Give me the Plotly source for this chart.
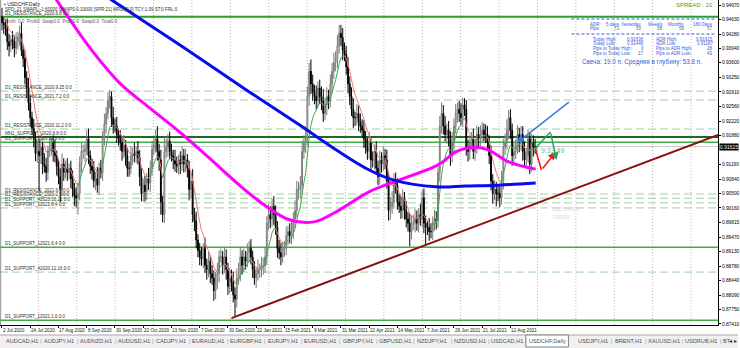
import plotly.graph_objects as go

# ------------------------------------------------------------------ data
date_labels = ["2 Jul 2020", "24 Jul 2020", "17 Aug 2020", "8 Sep 2020", "30 Sep 2020",
               "22 Oct 2020", "13 Nov 2020", "7 Dec 2020", "30 Dec 2020", "22 Jan 2021",
               "15 Feb 2021", "9 Mar 2021", "31 Mar 2021", "22 Apr 2021", "14 May 2021",
               "7 Jun 2021", "29 Jun 2021", "21 Jul 2021", "12 Aug 2021"]
date_label_bar = [0, 16, 32, 48, 64, 80, 96, 112, 128, 144, 160, 176, 192, 208, 224, 240, 256, 272, 288]

first_open = 0.9470
closes = [
    0.9455, 0.9450,
    0.9440, 0.9410, 0.9400, 0.9415, 0.9410,
    0.9395, 0.9410, 0.9420, 0.9430, 0.9390,
    0.9370, 0.9325, 0.9300, 0.9265, 0.9230,
    0.9205, 0.9180, 0.9145, 0.9150, 0.9140,
    0.9160, 0.9120, 0.9115, 0.9100, 0.9150,
    0.9160, 0.9170, 0.9150, 0.9140, 0.9115,
    0.9090, 0.9060, 0.9120, 0.9100, 0.9110,
    0.9100, 0.9110, 0.9085, 0.9060, 0.9045,
    0.9040, 0.9050, 0.9120, 0.9150, 0.9150,
    0.9155, 0.9180, 0.9140, 0.9115, 0.9105,
    0.9080, 0.9085, 0.9070, 0.9110, 0.9100,
    0.9180, 0.9215, 0.9240, 0.9270, 0.9280,
    0.9230, 0.9210, 0.9210, 0.9190, 0.9180,
    0.9170, 0.9150, 0.9165, 0.9140, 0.9110,
    0.9110, 0.9140, 0.9145, 0.9140, 0.9150,
    0.9135, 0.9090, 0.9050, 0.9070, 0.9055,
    0.9085, 0.9075, 0.9110, 0.9155, 0.9165,
    0.9180, 0.9150, 0.9130, 0.9030, 0.9000,
    0.9150, 0.9160, 0.9175, 0.9150, 0.9140,
    0.9130, 0.9120, 0.9115, 0.9130, 0.9120,
    0.9140, 0.9120, 0.9130, 0.9110, 0.9060,
    0.9080, 0.9000, 0.8985, 0.8940, 0.8915,
    0.8900, 0.8895, 0.8920, 0.8880, 0.8870,
    0.8890, 0.8860, 0.8850, 0.8820, 0.8840,
    0.8860, 0.8900, 0.8900, 0.8880,
    0.8900, 0.8870, 0.8830, 0.8850,
    0.8840, 0.8810, 0.8800, 0.8850, 0.8860,
    0.8900, 0.8880, 0.8900, 0.8890, 0.8910,
    0.8920, 0.8900, 0.8870, 0.8850, 0.8860,
    0.8870, 0.8870, 0.8880, 0.8880, 0.8900,
    0.8980, 0.9000, 0.8990, 0.9020, 0.9000,
    0.8970, 0.8920, 0.8910, 0.8900, 0.8920,
    0.8920, 0.8950, 0.8960, 0.8950, 0.8960,
    0.8990, 0.9010, 0.9060, 0.9060, 0.9070,
    0.9150, 0.9170, 0.9180, 0.9280, 0.9340,
    0.9310, 0.9290, 0.9280, 0.9270, 0.9300,
    0.9280, 0.9270, 0.9240, 0.9260, 0.9280,
    0.9270, 0.9310, 0.9340, 0.9360, 0.9370,
    0.9400, 0.9430, 0.9420, 0.9390, 0.9380,
    0.9350, 0.9310, 0.9280, 0.9250, 0.9230,
    0.9230, 0.9240, 0.9220, 0.9210, 0.9200,
    0.9180, 0.9160, 0.9150, 0.9170, 0.9130,
    0.9130, 0.9150, 0.9110, 0.9090, 0.9130,
    0.9120, 0.9140, 0.9130, 0.9080, 0.9010,
    0.9020, 0.9030, 0.9080, 0.9070, 0.9030,
    0.9020, 0.9010, 0.9040, 0.9010, 0.8990,
    0.8980, 0.8960, 0.8980, 0.8980, 0.8990,
    0.8980, 0.9000, 0.8990, 0.9040, 0.8980,
    0.8970, 0.8970, 0.8960, 0.8960, 0.8980,
    0.8990, 0.8985, 0.9100, 0.9210, 0.9240,
    0.9210, 0.9190, 0.9200, 0.9180, 0.9140,
    0.9170, 0.9210, 0.9240, 0.9250, 0.9240,
    0.9230, 0.9260, 0.9250, 0.9160, 0.9150,
    0.9170, 0.9180, 0.9150, 0.9160, 0.9190,
    0.9180, 0.9190, 0.9200, 0.9190, 0.9190,
    0.9170, 0.9140, 0.9080, 0.9050, 0.9060,
    0.9050, 0.9050, 0.9040, 0.9080, 0.9160,
    0.9170, 0.9200, 0.9230, 0.9200, 0.9140,
    0.9150, 0.9160, 0.9190, 0.9170, 0.9190,
    0.9150, 0.9130, 0.9140, 0.9180, 0.9120,
    0.9170, 0.9160, 0.9160, 0.91615,
]
# upper / lower wick length of each candle, in pips
hi_wick = [
    20, 15,  12, 25, 18, 10, 20,  15, 22, 14, 18, 26,  12, 20, 15, 24, 18,
    14, 22, 16, 25, 30,  18, 12, 26, 20, 14,  22, 15, 18, 28, 12,  16, 20, 25, 14, 18,
    24, 12, 18, 20, 15,  20, 26, 18, 22, 16,  14, 20, 24, 12, 18,  22, 16, 28, 14, 20,
    18, 24, 15, 20, 15,  12, 26, 18, 22, 14,  20, 15, 24, 12, 18,  16, 22, 14, 26, 12,
    24, 18, 20, 15, 22,  14, 26, 18, 20, 16,  22, 30, 18, 24, 15,  35, 20, 16, 22, 18,
    14, 24, 18, 12, 20,  22, 16, 26, 14, 18,  20, 28, 16, 22, 14,  18, 24, 12, 26, 16,
    22, 14, 20, 18, 24,  26, 15, 20, 14,  22, 18, 16, 24,  20, 25, 18, 22, 26,
    24, 16, 20, 14, 22,  18, 22, 15, 20, 16,  24, 14, 20, 18, 22,  16, 26, 20, 18, 24,
    22, 15, 20, 24, 16,  18, 22, 14, 20, 26,  16, 24, 20, 18, 22,  26, 18, 30, 24, 20,
    28, 22, 18, 26, 16,  20, 24, 28, 18, 22,  16, 22, 20, 24, 18,  26, 20, 20, 22, 18,
    20, 24, 18, 22, 26,  14, 22, 18, 20, 16,  24, 18, 22, 26, 14,  20, 16, 24, 18, 22,
    18, 22, 16, 24, 20,  22, 26, 18, 20, 16,  18, 24, 20, 14, 22,  16, 22, 18, 20, 24,
    20, 16, 26, 18, 22,  18, 14, 22, 20, 16,  22, 18, 20, 24, 26,  20, 24, 16, 22, 18,
    26, 18, 22, 16, 20,  24, 18, 16, 22, 18,  20, 16, 24, 18, 22,  18, 22, 20, 16, 24,
    20, 18, 24, 16, 22,  18, 22, 16, 24, 20,  22, 26, 18, 20, 16,  24, 18, 22, 16, 20,
    20, 24, 18, 22, 16,  22, 18, 20, 2.1,
]
lo_wick = [
    18, 22,  16, 20, 25, 14, 18,  22, 15, 18, 20, 14,  20, 16, 24, 18, 22,
    16, 20, 18, 22, 84,  20, 24, 15, 22, 18,  14, 20, 24, 16, 22,  18, 30, 16, 20, 14,
    20, 16, 22, 18, 24,  22, 40, 16, 20, 18,  24, 14, 20, 18, 22,  16, 22, 18, 24, 14,
    20, 16, 22, 14, 18,  22, 18, 14, 20, 16,  18, 22, 16, 24, 20,  20, 14, 22, 16, 18,
    16, 22, 18, 20, 24,  20, 16, 22, 18, 14,  18, 22, 26, 30, 18,  20, 16, 22, 18, 14,
    22, 18, 16, 20, 24,  16, 20, 18, 22, 26,  22, 18, 24, 20, 16,  20, 16, 22, 18, 24,
    18, 22, 16, 24, 20,  16, 20, 14, 22,  18, 24, 20, 16,  22, 18, 43, 20, 16,
    18, 22, 16, 20, 14,  22, 18, 20, 16, 24,  16, 20, 18, 22, 18,  20, 16, 22, 18, 24,
    18, 22, 16, 20, 14,  20, 16, 22, 18, 20,  18, 22, 16, 24, 20,  20, 18, 24, 16, 22,
    24, 20, 18, 22, 16,  18, 22, 20, 16, 24,  20, 16, 22, 18, 20,  22, 18, 20, 24, 16,
    18, 22, 20, 16, 24,  20, 18, 22, 16, 18,  22, 16, 20, 18, 24,  18, 22, 16, 20, 18,
    20, 16, 22, 18, 24,  22, 18, 16, 20, 18,  16, 20, 18, 22, 20,  20, 35, 18, 16, 22,
    18, 22, 16, 20, 24,  40, 18, 22, 16, 20,  18, 20, 16, 22, 18,  20, 16, 22, 18, 24,
    16, 20, 18, 22, 20,  18, 22, 16, 20, 24,  20, 16, 18, 22, 16,  22, 18, 20, 16, 20,
    18, 20, 22, 24, 16,  30, 18, 22, 16, 20,  18, 16, 22, 20, 24,  20, 18, 16, 22, 18,
    22, 18, 20, 16, 24,  18, 22, 16, 15.4,
]
ema_period = 8
ema_seed = 0.9480

# moving averages (bar index, price)
ma_mag_bar = [28, 50.8, 66.7, 83.6, 100.6, 117.5, 134.5, 148.6, 162.7, 176.8, 191, 207.9,
              224.9, 243.5, 249, 257, 268.4, 275.7, 287, 296.6, 302.3]
ma_mag_val = [0.9527, 0.9390, 0.9312, 0.9253, 0.9196, 0.9134, 0.9070, 0.9023, 0.8988, 0.8983,
              0.9011, 0.9054, 0.9082, 0.9111, 0.9123, 0.9149, 0.9160, 0.9153, 0.9125, 0.9113, 0.9108]
ma_blue_bar = [55.4, 62.1, 102.3, 140.1, 168.4, 191, 208, 222, 245.8, 262.7, 281.4, 302.3]
ma_blue_val = [0.9528, 0.9509, 0.9398, 0.9291, 0.9213, 0.9149, 0.9106, 0.9082, 0.9066, 0.9068,
               0.9070, 0.9075]

trend_bar = [130, 405.6]
trend_val = [0.8755, 0.9189]

levels = [0.9469, 0.9293, 0.9272, 0.9203, 0.9184, 0.9172, 0.9049, 0.9039, 0.9028, 0.9016,
          0.8923, 0.8864, 0.8750]
level_names = ["D1_RESISTANCE_2020.6.8 0:0", "D1_RESISTANCE_2020.9.25 0:0",
               "D1_RESISTANCE_2021.7.2 0:0", "D1_RESISTANCE_2020.11.2 0:0",
               "MN1_SUPPORT_2020.8.8 0:0", "D1_SUPPORT_2020.11.9 0:0",
               "D1_RESISTANCE_2021.6.4 0:0", "D1_RESISTANCE_2021.2.5 0:0",
               "D1_SUPPORT_42020.10.21 0:0", "D1_SUPPORT_12021.8.4 0:0",
               "D1_SUPPORT_12021.6.4 0:0", "D1_SUPPORT_42020.12.16 0:0",
               "D1_SUPPORT_12021.1.6 0:0"]
level_kind = ["thick", "dash", "dash", "dash", "dark", "solid", "dash", "dash", "dash", "dash",
              "solid", "dash", "solid"]

bid_price = 0.91615
bid_text = "0.91615"

blue_arrow_tail = (322, 0.92695)
blue_arrow_head = (291.5, 0.91699)
red_path_bar = [302.3, 305.6, 313.6]
red_path_val = [0.91534, 0.91060, 0.91487]
green_path_bar = [302.3, 310.7, 314.1]
green_path_val = [0.91581, 0.91960, 0.91297]

ytick_vals = [0.94970, 0.94630, 0.94280, 0.93940, 0.93600, 0.93250, 0.92910, 0.92560, 0.92220,
              0.91880, 0.91190, 0.90840, 0.90500, 0.90160, 0.89815, 0.89470, 0.89130, 0.88780,
              0.88440, 0.88090, 0.87750, 0.87410]
ytick_text = ["0.94970", "0.94630", "0.94280", "0.93940", "0.93600", "0.93250", "0.92910",
              "0.92560", "0.92220", "0.91880", "0.91190", "0.90840", "0.90500", "0.90160",
              "0.89815", "0.89470", "0.89130", "0.88780", "0.88440", "0.88090", "0.87750",
              "0.87410"]

tab_names = ["AUDCAD,H1", "AUDJPY,H1", "AUDNZD,H1", "AUDUSD,H1", "CADJPY,H1", "EURAUD,H1",
             "EURGBP,H1", "EURJPY,H1", "EURUSD,H1", "GBPJPY,H1", "GBPUSD,H1", "NZDJPY,H1",
             "NZDUSD,H1", "USDCAD,H1", "USDCHF,Daily", "USDJPY,H1", "BRENT,H1", "XAUUSD,H1",
             "USDRUB,H1"]
tab_cut = "BT"
active_tab = "USDCHF,Daily"

# ------------------------------------------------------------------ layout helpers
W, H = 740, 348
PR, PB = 720, 325          # plot area right / bottom in pixels
X_RANGE = [-1.13, 405.6]
Y_RANGE = [0.87386, 0.950885]
FONT = "Liberation Sans, Arial, sans-serif"


def px(x):
    return x / PR


def py(y):
    return (PB - y) / PB


n = len(closes)
bars = list(range(n))
opens = [first_open] + closes[:-1]
highs = [max(o, c) + w * 1e-4 for o, c, w in zip(opens, closes, hi_wick)]
lows = [min(o, c) - w * 1e-4 for o, c, w in zip(opens, closes, lo_wick)]

fig = go.Figure()

# candles
fig.add_trace(go.Candlestick(
    x=bars, open=opens, high=highs, low=lows, close=closes,
    increasing=dict(line=dict(color="#7a7a7a", width=1), fillcolor="#ffffff"),
    decreasing=dict(line=dict(color="#000000", width=1), fillcolor="#000000"),
    whiskerwidth=0, showlegend=False, hoverinfo="skip"))

# fast EMA coloured by slope
ema = []
prev = ema_seed
k = 2.0 / (ema_period + 1)
for c in closes:
    prev = prev + k * (c - prev)
    ema.append(prev)
gx, gy, rx, ry = [], [], [], []
for i in range(1, n):
    if ema[i] >= ema[i - 1]:
        gx += [i - 1, i, None]
        gy += [ema[i - 1], ema[i], None]
    else:
        rx += [i - 1, i, None]
        ry += [ema[i - 1], ema[i], None]
fig.add_trace(go.Scatter(x=rx, y=ry, mode="lines", line=dict(color="#f07878", width=1),
                         showlegend=False, hoverinfo="skip"))
fig.add_trace(go.Scatter(x=gx, y=gy, mode="lines", line=dict(color="#3cab4a", width=1),
                         showlegend=False, hoverinfo="skip"))

# slow MAs
fig.add_trace(go.Scatter(x=ma_mag_bar, y=ma_mag_val, mode="lines", line_shape="spline",
                         line=dict(color="#ff00ff", width=3), showlegend=False, hoverinfo="skip"))
fig.add_trace(go.Scatter(x=ma_blue_bar, y=ma_blue_val, mode="lines", line_shape="spline",
                         line=dict(color="#0a0aee", width=3), showlegend=False, hoverinfo="skip"))

# trend line
fig.add_trace(go.Scatter(x=trend_bar, y=trend_val, mode="lines",
                         line=dict(color="#8b1010", width=2), showlegend=False, hoverinfo="skip"))

# projection arrows
fig.add_trace(go.Scatter(x=red_path_bar[:2], y=red_path_val[:2], mode="lines",
                         line=dict(color="#ff1010", width=1.5), showlegend=False, hoverinfo="skip"))
fig.add_trace(go.Scatter(x=green_path_bar[:2], y=green_path_val[:2], mode="lines",
                         line=dict(color="#2e9e5e", width=1.5), showlegend=False, hoverinfo="skip"))

shapes = []
annotations = []

# vertical dotted grid
g = 38.5
while g < PR:
    shapes.append(dict(type="line", xref="paper", yref="paper", x0=px(g), x1=px(g), y0=0, y1=1,
                       line=dict(color="#b8b8b8", width=1, dash="1px,2px"), layer="below"))
    g += 38.5

# horizontal levels
for lv, nm, kd in zip(levels, level_names, level_kind):
    if kd == "thick":
        ln = dict(color="#2ca02c", width=2)
    elif kd == "dark":
        ln = dict(color="#1d6b1d", width=2)
    elif kd == "solid":
        ln = dict(color="#3cb043", width=1.5)
    else:
        ln = dict(color="#9fd09f", width=1, dash="8px,4px")
    shapes.append(dict(type="line", xref="paper", yref="y", x0=0, x1=1, y0=lv, y1=lv,
                       line=ln, layer="below"))
    annotations.append(dict(xref="paper", yref="y", x=px(3), y=lv, text=nm, showarrow=False,
                            xanchor="left", yanchor="bottom", yshift=-1,
                            font=dict(family=FONT, size=4.5, color="#303030")))

# bid line
shapes.append(dict(type="line", xref="paper", yref="y", x0=0, x1=1, y0=bid_price, y1=bid_price,
                   line=dict(color="#c8c8c8", width=1), layer="below"))
annotations.append(dict(xref="paper", yref="y", x=1, y=bid_price, text=bid_text, showarrow=False,
                        xanchor="left", yanchor="middle", xshift=1, bgcolor="#000000",
                        font=dict(family=FONT, size=5, color="#ffffff"), borderpad=0))

# left border
shapes.append(dict(type="line", xref="paper", yref="paper", x0=0.001, x1=0.001, y0=0, y1=1,
                   line=dict(color="#909090", width=1)))

# arrows
annotations.append(dict(x=blue_arrow_head[0], y=blue_arrow_head[1], ax=blue_arrow_tail[0],
                        ay=blue_arrow_tail[1], axref="x", ayref="y", xref="x", yref="y",
                        showarrow=True, arrowhead=2, arrowsize=1, arrowwidth=1.5,
                        arrowcolor="#3a7be0", text=""))
annotations.append(dict(x=red_path_bar[2], y=red_path_val[2], ax=red_path_bar[1],
                        ay=red_path_val[1], axref="x", ayref="y", xref="x", yref="y",
                        showarrow=True, arrowhead=2, arrowsize=1, arrowwidth=1.5,
                        arrowcolor="#ff1010", text=""))
annotations.append(dict(x=green_path_bar[2], y=green_path_val[2], ax=green_path_bar[1],
                        ay=green_path_val[1], axref="x", ayref="y", xref="x", yref="y",
                        showarrow=True, arrowhead=2, arrowsize=1, arrowwidth=1.5,
                        arrowcolor="#2e9e5e", text=""))
annotations.append(dict(xref="paper", yref="paper", x=px(540), y=py(150), text="9:33:49",
                        showarrow=False, xanchor="left", yanchor="middle",
                        font=dict(family=FONT, size=7, color="#6cc09a")))
annotations.append(dict(xref="paper", yref="paper", x=px(553), y=py(210), text="2021.6.4 0:0",
                        showarrow=False, xanchor="left", yanchor="middle",
                        font=dict(family=FONT, size=4.5, color="#d4d4d4")))
annotations.append(dict(xref="paper", yref="paper", x=px(553), y=py(217), text="0.90130",
                        showarrow=False, xanchor="left", yanchor="middle",
                        font=dict(family=FONT, size=4.5, color="#d4d4d4")))

# top-left header texts
annotations += [
    dict(xref="paper", yref="paper", x=px(2), y=py(4), text="▪ USDCHF,Daily", showarrow=False,
         xanchor="left", yanchor="middle", font=dict(family=FONT, size=5, color="#202020")),
    dict(xref="paper", yref="paper", x=px(3), y=py(9.5),
         text="SPD: 21 SWAPL:-1.60000 SWAPS:0.10000 [SPR:21] MRG:[0.0] TCY:1.09 ST:0 FRL:0",
         showarrow=False, xanchor="left", yanchor="middle",
         font=dict(family=FONT, size=4.5, color="#303030")),
    dict(xref="paper", yref="paper", x=px(3), y=py(21),
         text="Profit: 0.0  Profit0  Swap0.0  Profit0.0  Swap0.0  Total0.0",
         showarrow=False, xanchor="left", yanchor="middle",
         font=dict(family=FONT, size=4.5, color="#606060")),
]

# top-right info panel
BLUE = "#3b5bd6"
annotations.append(dict(xref="paper", yref="paper", x=px(717), y=py(5), text="SPREAD : 21",
                        showarrow=False, xanchor="right", yanchor="middle",
                        font=dict(family=FONT, size=6, color="#35a035")))
for yy in (19, 34):
    shapes.append(dict(type="line", xref="paper", yref="paper", x0=px(573), x1=px(717),
                       y0=py(yy), y1=py(yy), line=dict(color=BLUE, width=1, dash="3px,2px")))
adr_heads = ["5 days", "Yesterday", "Weekly", "Monthly", "180 Days"]
adr_pips = ["73", "50", "58", "56", "57"]
adr_right = [624, 646, 667, 689, 717]
annotations.append(dict(xref="paper", yref="paper", x=px(590), y=py(24), text="ADR:",
                        showarrow=False, xanchor="left", yanchor="middle",
                        font=dict(family=FONT, size=4.5, color=BLUE)))
annotations.append(dict(xref="paper", yref="paper", x=px(590), y=py(29), text="Pips:",
                        showarrow=False, xanchor="left", yanchor="middle",
                        font=dict(family=FONT, size=4.5, color=BLUE)))
for hname, pv, xr in zip(adr_heads, adr_pips, adr_right):
    annotations.append(dict(xref="paper", yref="paper", x=px(xr), y=py(24), text=hname,
                            showarrow=False, xanchor="right", yanchor="middle",
                            font=dict(family=FONT, size=4.5, color=BLUE)))
    annotations.append(dict(xref="paper", yref="paper", x=px(xr), y=py(29), text=pv,
                            showarrow=False, xanchor="right", yanchor="middle",
                            font=dict(family=FONT, size=4.5, color=BLUE)))
info_rows = [("Today High:", "0.91636", "ADR High:", "0.91915"),
             ("Today Low:", "0.91446", "ADR Low:", "0.91187"),
             ("Pips to Today High:", "0", "Pips to ADR High:", "28"),
             ("Pips to Today Low:", "17", "Pips to ADR Low:", "43")]
for r, (a, b, c, d) in enumerate(info_rows):
    yy = py(39 + r * 4.7)
    for txt, xx, anc in ((a, 593, "left"), (b, 648, "right"), (c, 656, "left"), (d, 717, "right")):
        annotations.append(dict(xref="paper", yref="paper", x=px(xx), y=yy, text=txt,
                                showarrow=False, xanchor=anc, yanchor="middle",
                                font=dict(family=FONT, size=4.5, color=BLUE)))
annotations.append(dict(xref="paper", yref="paper", x=px(582), y=py(62),
                        text="Свеча: 19.0 п. Средняя в глубину: 53.8 п.",
                        showarrow=False, xanchor="left", yanchor="middle",
                        font=dict(family=FONT, size=6.3, color=BLUE)))

# date labels
for b, t in zip(date_label_bar, date_labels):
    annotations.append(dict(xref="x", yref="paper", x=b, y=py(330), text=t, showarrow=False,
                            xanchor="left", yanchor="middle", xshift=-1,
                            font=dict(family=FONT, size=4.6, color="#202020")))

# tab bar
shapes.append(dict(type="rect", xref="paper", yref="paper", x0=0, x1=px(W), y0=py(H), y1=py(335),
                   fillcolor="#f0f0f0", line=dict(width=0)))
shapes.append(dict(type="line", xref="paper", yref="paper", x0=0, x1=px(W), y0=py(335), y1=py(335),
                   line=dict(color="#a8a8a8", width=1)))
tx = 3.0
for nm in tab_names:
    w = len(nm) * 3.75 + 3.7
    if nm == active_tab:
        shapes.append(dict(type="rect", xref="paper", yref="paper", x0=px(tx), x1=px(tx + w - 6),
                           y0=py(347), y1=py(335), fillcolor="#ffffff",
                           line=dict(color="#808080", width=1)))
        cx = tx + (w - 6) / 2
    else:
        cx = tx + w / 2
    annotations.append(dict(xref="paper", yref="paper", x=px(cx), y=py(341.5), text=nm,
                            showarrow=False, xanchor="center", yanchor="middle",
                            font=dict(family=FONT, size=5.6, color="#505050")))
    if nm != active_tab:
        annotations.append(dict(xref="paper", yref="paper", x=px(tx + w), y=py(341.5), text="|",
                                showarrow=False, xanchor="center", yanchor="middle",
                                font=dict(family=FONT, size=5.6, color="#909090")))
    tx += w
annotations.append(dict(xref="paper", yref="paper", x=px(tx + 1), y=py(341.5), text=tab_cut,
                        showarrow=False, xanchor="left", yanchor="middle",
                        font=dict(family=FONT, size=5.6, color="#505050")))
annotations.append(dict(xref="paper", yref="paper", x=px(733), y=py(341.5), text="◂",
                        showarrow=False, xanchor="center", yanchor="middle",
                        font=dict(family=FONT, size=5.6, color="#303030")))
annotations.append(dict(xref="paper", yref="paper", x=px(738), y=py(341.5), text="▸",
                        showarrow=False, xanchor="center", yanchor="middle",
                        font=dict(family=FONT, size=5.6, color="#303030")))

fig.update_layout(
    width=W, height=H, margin=dict(l=0, r=W - PR, t=0, b=H - PB),
    paper_bgcolor="#ffffff", plot_bgcolor="#ffffff", showlegend=False,
    shapes=shapes, annotations=annotations,
    xaxis=dict(range=X_RANGE, showgrid=False, zeroline=False, showline=True, linecolor="#000000",
               linewidth=1, tickvals=date_label_bar, ticks="outside", ticklen=2,
               tickcolor="#000000", showticklabels=False, rangeslider=dict(visible=False),
               fixedrange=True),
    yaxis=dict(range=Y_RANGE, side="right", showgrid=False, zeroline=False, showline=True,
               linecolor="#000000", linewidth=1, tickvals=ytick_vals, ticktext=ytick_text,
               ticks="outside", ticklen=2, tickcolor="#000000",
               tickfont=dict(family=FONT, size=4.8, color="#000000"), fixedrange=True),
)

fig.write_html("out.html")
